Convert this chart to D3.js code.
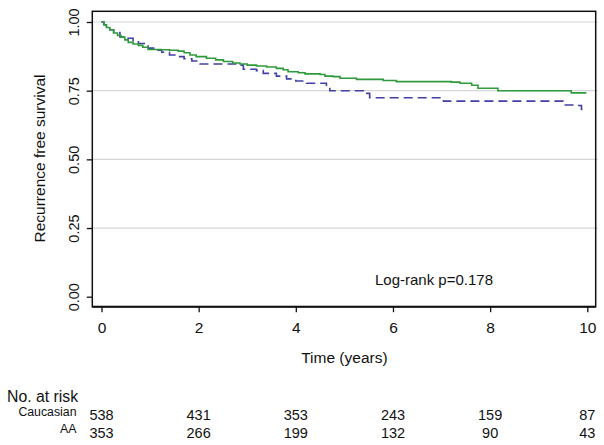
<!DOCTYPE html>
<html>
<head>
<meta charset="utf-8">
<script src="https://cdn.jsdelivr.net/npm/d3@7"></script>
<style>
  body { margin: 0; background: #fff; }
  svg { display: block; font-family: "Liberation Sans", Arial, sans-serif; }
</style>
</head>
<body>
<svg id="chart" width="604" height="445"></svg>
<script>
// ---- data ----
const caucasian = [
  [0,1.0],[0.05,0.99],[0.1,0.98],[0.17,0.972],[0.25,0.96],[0.33,0.951],[0.4,0.945],
  [0.48,0.935],[0.55,0.926],[0.65,0.92],[0.76,0.915],[0.85,0.908],[0.96,0.90],
  [1.24,0.899],[1.4,0.897],[1.58,0.894],[1.7,0.888],[1.82,0.88],[1.95,0.874],
  [2.16,0.868],[2.35,0.862],[2.51,0.856],[2.7,0.851],[2.85,0.847],[3.0,0.843],
  [3.19,0.840],[3.4,0.836],[3.6,0.831],[3.74,0.826],[3.84,0.819],[4.05,0.815],
  [4.19,0.811],[4.5,0.809],[4.6,0.803],[4.77,0.801],[4.91,0.795],[5.25,0.791],
  [5.8,0.787],[6.07,0.783],[7.2,0.781],[7.38,0.777],[7.62,0.770],[7.75,0.759],
  [8.16,0.750],[9.67,0.742],[9.98,0.742]
];
const aa = [
  [0,1.0],[0.05,0.99],[0.1,0.98],[0.17,0.972],[0.25,0.962],[0.38,0.946],[0.52,0.941],
  [0.65,0.932],[0.76,0.922],[0.96,0.905],[1.1,0.897],[1.24,0.89],[1.4,0.88],
  [1.51,0.874],[1.7,0.866],[1.86,0.858],[2.03,0.847],[2.78,0.843],[2.92,0.828],
  [3.19,0.823],[3.33,0.813],[3.6,0.803],[3.81,0.793],[4.0,0.785],[4.22,0.777],
  [4.63,0.765],[4.7,0.750],[5.39,0.740],[5.52,0.724],[7.04,0.712],[9.5,0.698],
  [9.75,0.696],[9.88,0.682],[9.9,0.682]
];
const xTicks = [0, 2, 4, 6, 8, 10];
const yTicks = [0, 0.25, 0.5, 0.75, 1];
const gridTicks = [0.25, 0.5, 0.75, 1];
const riskGroups = ["Caucasian", "AA"];
const riskCaucasian = [538, 431, 353, 243, 159, 87];
const riskAA = [353, 266, 199, 132, 90, 43];

// ---- layout ----
const svg = d3.select("#chart");
const box = { left: 92.3, right: 595.7, top: 11.3, bottom: 306.7 };
const x = d3.scaleLinear().domain([0, 10]).range([101.5, 587.3]);
const y = d3.scaleLinear().domain([0, 1]).range([296.7, 22]);
const font = "Liberation Sans, Arial, sans-serif";

// gridlines
svg.append("g").selectAll("line").data(gridTicks).join("line")
  .attr("x1", box.left).attr("x2", box.right + 2)
  .attr("y1", d => y(d)).attr("y2", d => y(d))
  .attr("stroke", "#d6d6d6").attr("stroke-width", 1.2);

// curves
const line = d3.line().x(d => x(d[0])).y(d => y(d[1])).curve(d3.curveStepAfter);
svg.append("path").datum(aa).attr("d", line)
  .attr("fill", "none").attr("stroke", "#4040a6").attr("stroke-width", 1.6)
  .attr("stroke-dasharray", "9,5");
svg.append("path").datum(caucasian).attr("d", line)
  .attr("fill", "none").attr("stroke", "#2f9a3c").attr("stroke-width", 1.6);

// box
svg.append("rect")
  .attr("x", box.left).attr("y", box.top)
  .attr("width", box.right - box.left).attr("height", box.bottom - box.top)
  .attr("fill", "none").attr("stroke", "#111").attr("stroke-width", 1.5);
svg.append("line").attr("x1", box.left).attr("x2", box.right)
  .attr("y1", box.bottom).attr("y2", box.bottom)
  .attr("stroke", "#111").attr("stroke-width", 2);

// x axis
const xa = svg.append("g").attr("transform", `translate(0,${box.bottom})`)
  .call(d3.axisBottom(x).tickValues(xTicks).tickFormat(d3.format("d"))
    .tickSize(5.5).tickPadding(9.5));
xa.select(".domain").remove();
xa.selectAll(".tick line").attr("stroke", "#111").attr("stroke-width", 1.3);
xa.selectAll(".tick text").attr("fill", "#111").style("font-size", "15.5px")
  .style("font-family", font);

// y axis
const ya = svg.append("g").attr("transform", `translate(${box.left},0)`)
  .call(d3.axisLeft(y).tickValues(yTicks).tickFormat(d3.format(".2f"))
    .tickSize(5.5));
ya.select(".domain").remove();
ya.selectAll(".tick line").attr("stroke", "#111").attr("stroke-width", 1.3);
ya.selectAll(".tick text")
  .attr("transform", "rotate(-90)")
  .attr("x", 0).attr("y", -13).attr("dy", 0)
  .attr("text-anchor", "middle")
  .attr("fill", "#111").style("font-size", "14.5px").style("font-family", font);

// titles
svg.append("text")
  .attr("transform", "translate(45,158.5) rotate(-90)")
  .attr("text-anchor", "middle").attr("fill", "#111")
  .style("font-size", "15.5px").text("Recurrence free survival");
svg.append("text")
  .attr("x", (x(0) + x(10)) / 2).attr("y", 363)
  .attr("text-anchor", "middle").attr("fill", "#111")
  .style("font-size", "15.5px").text("Time (years)");
svg.append("text")
  .attr("x", 375).attr("y", 285)
  .attr("fill", "#111").style("font-size", "15px").text("Log-rank p=0.178");

// risk table
svg.append("text").attr("x", 7).attr("y", 401.7)
  .attr("fill", "#111").style("font-size", "15.8px").text("No. at risk");
const rows = [riskCaucasian, riskAA];
const rowBase = [420, 437.7];
rows.forEach((vals, i) => {
  svg.append("text").attr("x", 76.5).attr("y", rowBase[i] - 4.3)
    .attr("text-anchor", "end").attr("fill", "#111")
    .style("font-size", "12.3px").text(riskGroups[i]);
  svg.append("g").selectAll("text").data(vals).join("text")
    .attr("x", (d, j) => x(xTicks[j])).attr("y", rowBase[i])
    .attr("text-anchor", "middle").attr("fill", "#111")
    .style("font-size", "14.5px").text(d => d);
});
</script>
</body>
</html>
